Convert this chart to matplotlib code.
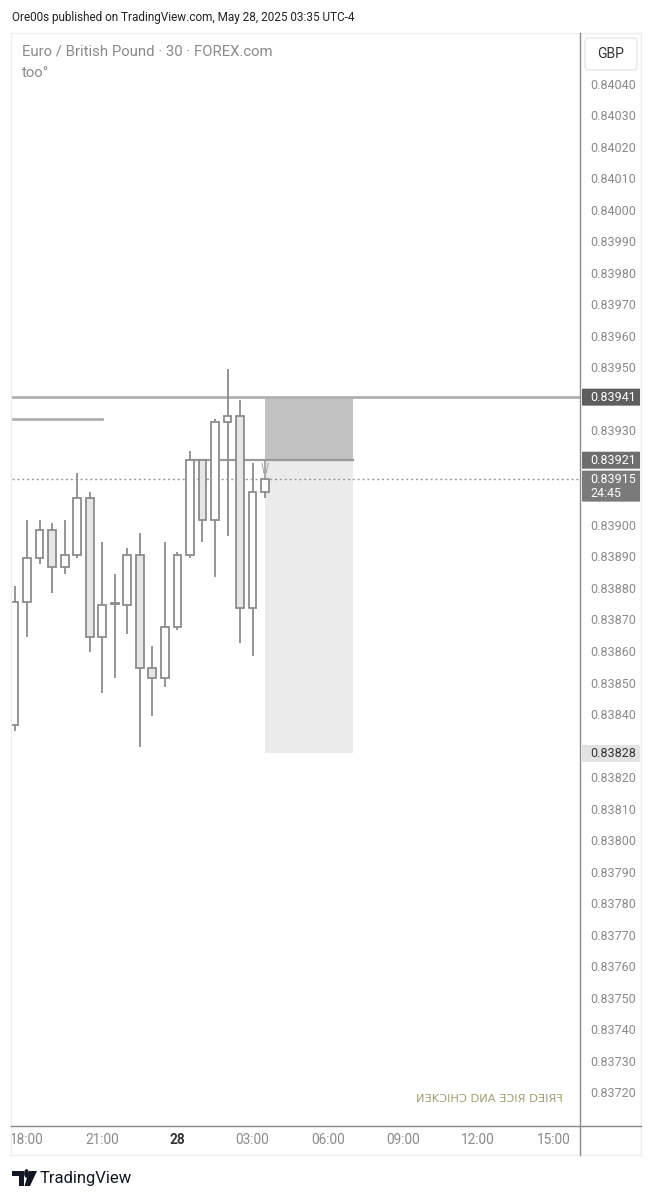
import matplotlib
matplotlib.use("Agg")
import matplotlib.pyplot as plt
from matplotlib.patches import Rectangle, FancyBboxPatch, Polygon, Circle
from matplotlib.lines import Line2D

plt.rcParams['font.family'] = ['Roboto', 'DejaVu Sans']

# ---------------- data ----------------
times = ["17:30", "18:00", "18:30", "19:00", "19:30", "20:00", "20:30", "21:00",
         "21:30", "22:00", "22:30", "23:00", "23:30", "00:00", "00:30", "01:00",
         "01:30", "02:00", "02:30", "03:00", "03:30"]
opens = [0.83837, 0.83876, 0.83890, 0.83899, 0.83887, 0.83891, 0.83909, 0.83865,
         0.838755, 0.83875, 0.83891, 0.83855, 0.83852, 0.83868, 0.83891, 0.83921,
         0.83902, 0.83933, 0.83935, 0.83874, 0.83911]
highs = [0.83881, 0.83902, 0.83902, 0.83901, 0.83902, 0.83917, 0.83911, 0.83895,
         0.83885, 0.83893, 0.83898, 0.83862, 0.83895, 0.83892, 0.83924, 0.83921,
         0.83934, 0.83950, 0.83940, 0.83920, 0.83915]
lows = [0.83835, 0.83865, 0.83888, 0.83879, 0.83885, 0.83890, 0.83860, 0.83847,
        0.83852, 0.83866, 0.83830, 0.83840, 0.83849, 0.83867, 0.83890, 0.83895,
        0.83884, 0.83897, 0.83863, 0.83859, 0.83909]
closes = [0.83876, 0.83890, 0.83899, 0.83887, 0.83891, 0.83909, 0.83865, 0.83875,
          0.838758, 0.83891, 0.83855, 0.83852, 0.83868, 0.83891, 0.83921, 0.83902,
          0.83933, 0.83935, 0.83874, 0.83911, 0.83915]

xtick_labels = ["18:00", "21:00", "28", "03:00", "06:00", "09:00", "12:00", "15:00"]
xtick_pos = [1, 7, 13, 19, 25, 31, 37, 43]

price_ticks = [0.83720, 0.83730, 0.83740, 0.83750, 0.83760, 0.83770, 0.83780, 0.83790,
               0.83800, 0.83810, 0.83820, 0.83840, 0.83850, 0.83860, 0.83870,
               0.83880, 0.83890, 0.83900, 0.83930, 0.83950, 0.83960, 0.83970,
               0.83980, 0.83990, 0.84000, 0.84010, 0.84020, 0.84030, 0.84040]

hline_price = 0.83941
short_line_price = 0.83934
entry_price = 0.83921
target_price = 0.83828
last_price = 0.83915
countdown = "24:45"
pos_start, pos_end = 20, 27      # candle index range of position box

W, H = 659, 1200
fig = plt.figure(figsize=(W / 100, H / 100), dpi=100)
fig.patch.set_facecolor("white")

def fx(px):
    return px / W

def fy(py):
    return 1 - py / H

ax_l, ax_r, ax_t, ax_b = 12, 580, 33, 1126
ax = fig.add_axes([fx(ax_l), fy(ax_b), fx(ax_r - ax_l), (ax_b - ax_t) / H])
ax.set_xlim(-0.2, 45.13)
ax.set_ylim(0.837098, 0.840565)
for s in ax.spines.values():
    s.set_visible(False)
ax.set_xticks([])
ax.set_yticks([])

edge = "#8c8c8c"
# position box
ax.add_patch(Rectangle((pos_start, entry_price), pos_end - pos_start, hline_price - entry_price,
                       facecolor="#c2c2c2", edgecolor="none", zorder=1))
ax.add_patch(Rectangle((pos_start, target_price), pos_end - pos_start, entry_price - target_price,
                       facecolor="#ebebeb", edgecolor="none", zorder=1))
ax.plot([14.1, pos_end], [entry_price, entry_price], color="#9a9a9a", lw=1.6, zorder=2)
ax.plot([pos_start, pos_start], [entry_price, 0.83915], color="#9a9a9a", lw=1.2, zorder=2)

# horizontal lines
ax.axhline(hline_price, color="#b0b0b0", lw=2, zorder=2)
ax.plot([-0.2, 7.0], [short_line_price, short_line_price], color="#b0b0b0", lw=2, zorder=2)
ax.axhline(last_price, color="#9a9a9a", lw=1, ls=(0, (1.5, 2)), zorder=2)

# candles
bw = 0.62
for i, (o, h, l, c) in enumerate(zip(opens, highs, lows, closes)):
    bull = c >= o
    ax.plot([i, i], [l, h], color=edge, lw=1.3, zorder=3, solid_capstyle="butt")
    lo, hi = min(o, c), max(o, c)
    ax.add_patch(Rectangle((i - bw / 2, lo), bw, hi - lo,
                           facecolor="white" if bull else "#e6e6e6",
                           edgecolor=edge, lw=1.3, zorder=4))

# small cursor marks above last candle
ax.plot([19.75, 19.9], [0.83920, 0.83917], color="#aaaaaa", lw=0.8, zorder=5)
ax.plot([20.25, 20.1], [0.83920, 0.83917], color="#aaaaaa", lw=0.8, zorder=5)

# x tick labels
for p, lab in zip(xtick_pos, xtick_labels):
    bold = lab == "28"
    ax.text(p, -0.0128, lab, transform=ax.get_xaxis_transform(), ha="center", va="center",
            fontsize=9.8, color="#333333" if bold else "#8a8a8a",
            fontweight="bold" if bold else "normal", clip_on=False)

# frame lines
fig.add_artist(Line2D([fx(11), fx(641)], [fy(33), fy(33)], color="#eeeeee", lw=1))
fig.add_artist(Line2D([fx(11), fx(11)], [fy(33), fy(1155)], color="#eeeeee", lw=1))
fig.add_artist(Line2D([fx(641), fx(641)], [fy(33), fy(1155)], color="#eeeeee", lw=1))
fig.add_artist(Line2D([fx(11), fx(641)], [fy(1155), fy(1155)], color="#eeeeee", lw=1))
fig.add_artist(Line2D([fx(11), fx(641)], [fy(1126), fy(1126)], color="#8a8a8a", lw=1))
fig.add_artist(Line2D([fx(580), fx(580)], [fy(33), fy(1155)], color="#8a8a8a", lw=1))

# price axis labels
tr = ax.get_yaxis_transform()
lab_x = (590 - ax_l) / (ax_r - ax_l)
for p in price_ticks:
    ax.text(lab_x, p, f"{p:.5f}", transform=tr, ha="left", va="center",
            fontsize=9, color="#8a8a8a", clip_on=False, zorder=6)

box_x0 = (582 - ax_l) / (ax_r - ax_l)
box_w = (640 - 582) / (ax_r - ax_l)

def py2data(py):
    disp = fig.transFigure.transform((0, fy(py)))
    return ax.transData.inverted().transform(disp)[1]

def price_box(price, text, fc, tc, nlines=1):
    hpx = 17 if nlines == 1 else 31
    ypx_c = 85 + (0.84040 - price) / 0.0001 * 31.53
    top = ypx_c - 8.5
    bot = top + hpx
    yb, yt = py2data(bot), py2data(top)
    ax.add_patch(FancyBboxPatch((box_x0, yb), box_w, yt - yb, transform=tr,
                                boxstyle="round,pad=0,rounding_size=0.004",
                                mutation_aspect=0.0001,
                                facecolor=fc, edgecolor="none", clip_on=False, zorder=7))
    ax.text(lab_x, py2data(top + 8.5), text, transform=tr, ha="left", va="center",
            fontsize=9, color=tc, clip_on=False, zorder=8)
    if nlines == 2:
        ax.text(lab_x, py2data(top + 23), countdown, transform=tr, ha="left", va="center",
                fontsize=9, color=tc, clip_on=False, zorder=8)

price_box(hline_price, f"{hline_price:.5f}", "#5e5e5e", "white")
price_box(entry_price, f"{entry_price:.5f}", "#6e6e6e", "white")
price_box(last_price, f"{last_price:.5f}", "#7a7a7a", "white", nlines=2)
price_box(target_price, f"{target_price:.5f}", "#e3e3e3", "#333333")

# GBP button
fig.add_artist(FancyBboxPatch((fx(585), fy(70)), fx(52), (70 - 38) / H,
                              boxstyle="round,pad=0,rounding_size=0.004",
                              facecolor="white", edgecolor="#e6e6e6", lw=1,
                              transform=fig.transFigure))
fig.text(fx(611), fy(54), "GBP", ha="center", va="center", fontsize=10, color="#333333")

# header texts
fig.text(fx(12), fy(18), "Ore00s published on TradingView.com, May 28, 2025 03:35 UTC-4",
         ha="left", va="center", fontsize=8.5, color="#222222")
fig.text(fx(22), fy(52), "Euro / British Pound · 30 · FOREX.com",
         ha="left", va="center", fontsize=10.7, color="#8a8a8a")
fig.text(fx(22), fy(73), "too°", ha="left", va="center", fontsize=10.7, color="#8a8a8a")

# mirrored watermark
fig.text(fx(489), fy(1099), "ИƎKϽIHϽ DИA ƎϽIЯ DƎIЯꟻ", ha="center", va="center",
         fontsize=8.2, color="#a39c72", family=['DejaVu Sans', 'Noto Sans'])

# TradingView logo
fig.add_artist(Polygon([(fx(12), fy(1171)), (fx(24), fy(1171)), (fx(24), fy(1186)),
                        (fx(19), fy(1186)), (fx(19), fy(1176)), (fx(12), fy(1176))],
                       closed=True, facecolor="#131722", edgecolor="none",
                       transform=fig.transFigure))
fig.add_artist(Polygon([(fx(29), fy(1171)), (fx(37), fy(1171)), (fx(30), fy(1186)),
                        (fx(24.5), fy(1186))],
                       closed=True, facecolor="#131722", edgecolor="none",
                       transform=fig.transFigure))
fig.add_artist(Circle((fx(26.5), fy(1173.5)), 2.4 / W,
                      facecolor="#131722", edgecolor="none",
                      transform=fig.transFigure))
fig.text(fx(40), fy(1178), "TradingView", ha="left", va="center", fontsize=12,
         color="#131722")

fig.savefig("out.png", dpi=100, facecolor="white")
